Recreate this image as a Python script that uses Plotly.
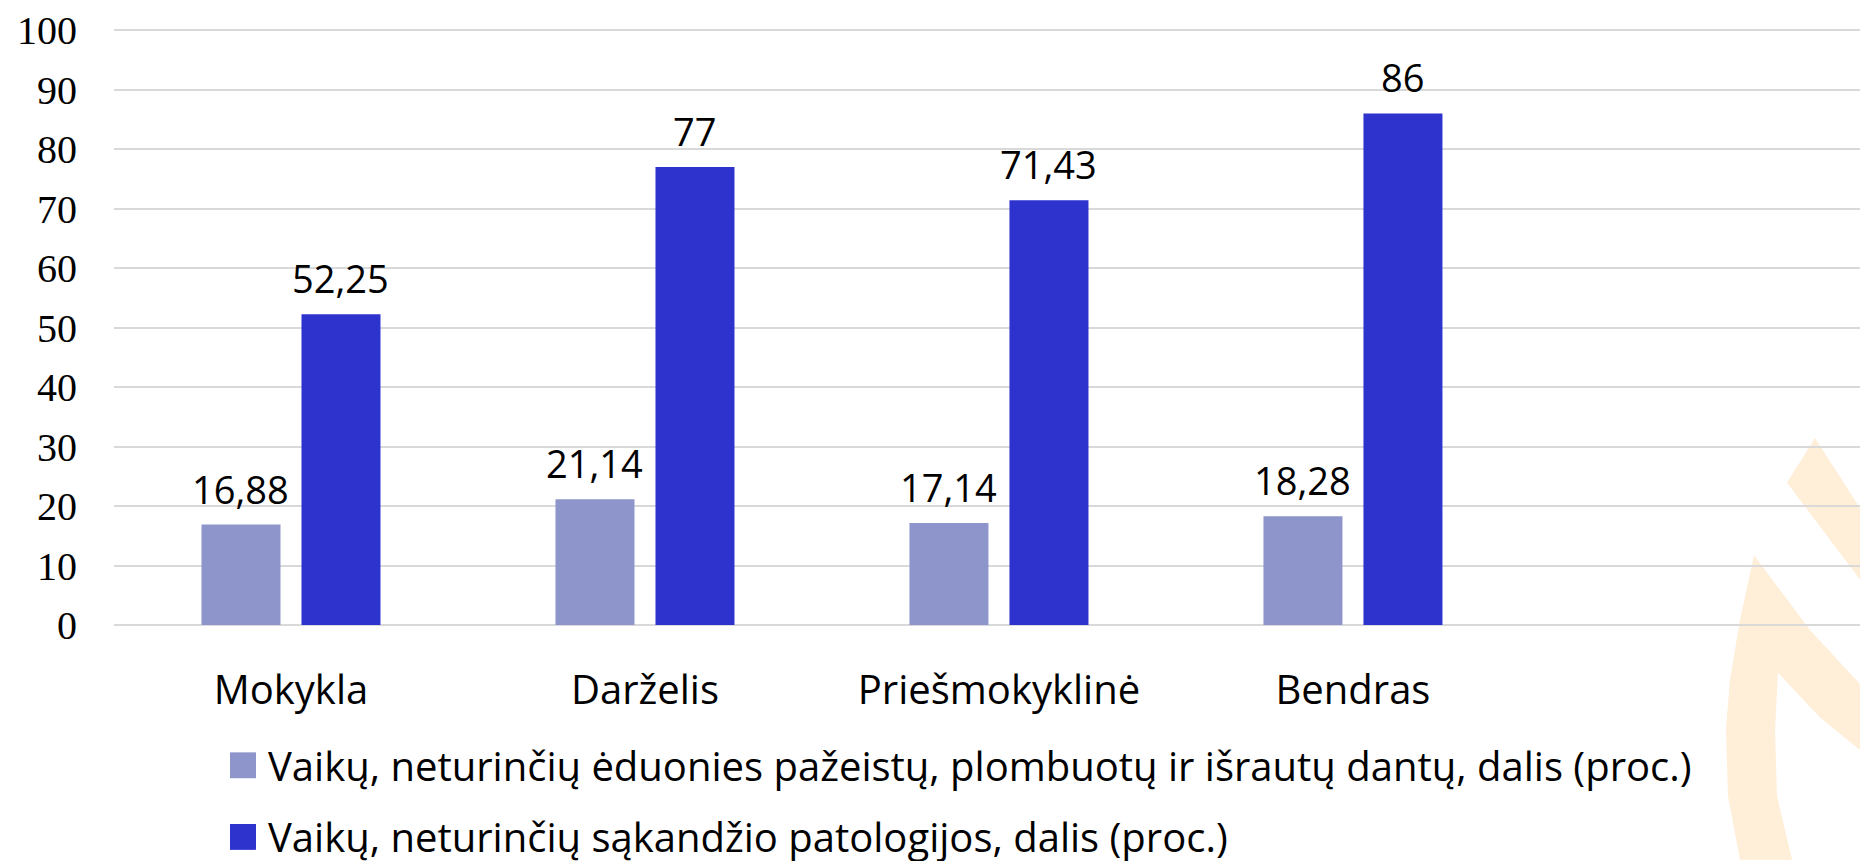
import plotly.graph_objects as go

# data
categories = ["Mokykla", "Darželis", "Priešmokyklinė", "Bendras"]
caries_free = [16.88, 21.14, 17.14, 18.28]
bite_ok = [52.25, 77, 71.43, 86]
series_names = [
    "Vaikų, neturinčių ėduonies pažeistų, plombuotų ir išrautų dantų, dalis (proc.)",
    "Vaikų, neturinčių sąkandžio patologijos, dalis (proc.)",
]
y_ticks = [0, 10, 20, 30, 40, 50, 60, 70, 80, 90, 100]

colors = ["#8E95CB", "#2E33CE"]
sans = "Open Sans"

# the page puts the figure 8px in from the top-left corner (body margin)
OFF = 8
W, H = 1868 - OFF, 861 - OFF
L, R, T, B = 106, 0, 18, 236


# page pixels -> paper coords (for decoration / legend only)
def px(x):
    return (x - OFF - L) / (W - L - R)


def py(y):
    return (H - B - (y - OFF)) / (H - T - B)


def path(points):
    s = "M " + " L ".join(f"{px(x):.4f},{py(y):.4f}" for x, y in points)
    return s + " Z"


fig = go.Figure()
for name, vals, col in zip(series_names, [caries_free, bite_ok], colors):
    fig.add_trace(go.Bar(x=categories, y=vals, name=name,
                         marker=dict(color=col, line=dict(width=0)),
                         showlegend=False))

# value labels
annotations = []
for vals, shift in [(caries_free, -50), (bite_ok, 50)]:
    for c, v in zip(categories, vals):
        annotations.append(dict(
            x=c, y=v, xref="x", yref="y", text=f"{v:g}".replace(".", ","),
            showarrow=False, xshift=shift, yanchor="bottom", yshift=8,
            font=dict(family=sans, size=38, color="black")))

# legend drawn by hand so the colour squares match the original size
shapes = []
for i, (name, col) in enumerate(zip(series_names, colors)):
    yc = 766 + i * 72
    shapes.append(dict(type="rect", xref="paper", yref="paper",
                       x0=px(230), x1=px(256), y0=py(yc + 13), y1=py(yc - 13),
                       fillcolor=col, line=dict(width=0)))
    annotations.append(dict(x=px(266), y=py(yc), xref="paper", yref="paper",
                            text=name, showarrow=False, xanchor="left",
                            yanchor="middle",
                            font=dict(family=sans, size=40, color="black")))

# faint orange watermark on the right
wm = "rgb(255,238,216)"
shapes.append(dict(type="path", xref="paper", yref="paper", layer="below",
                   path=path([(1815, 437), (1868, 520), (1868, 590), (1787, 482)]),
                   fillcolor=wm, line=dict(width=0)))
shapes.append(dict(type="path", xref="paper", yref="paper", layer="below",
                   path=path([(1754, 555), (1810, 630), (1868, 693), (1868, 757),
                              (1820, 718), (1778, 673), (1775, 730), (1777, 797),
                              (1792, 861), (1740, 861), (1728, 797), (1726, 730),
                              (1730, 680), (1740, 620)]),
                   fillcolor=wm, line=dict(width=0)))
shapes.append(dict(type="path", xref="paper", yref="paper", layer="below",
                   path=path([(1868, 358), (1860, 368), (1868, 396)]),
                   fillcolor=wm, line=dict(width=0)))

fig.update_layout(
    width=W, height=H,
    margin=dict(l=L, r=R, t=T, b=B, pad=0),
    paper_bgcolor="white", plot_bgcolor="rgba(0,0,0,0)",
    barmode="group", bargap=0.435, bargroupgap=0.21,
    annotations=annotations, shapes=shapes,
    showlegend=False,
)
fig.update_xaxes(range=[-0.5, 4.455], showgrid=False, showline=False,
                 zeroline=False, ticks="", ticklabelstandoff=38,
                 tickfont=dict(family=sans, size=40, color="black"))
# top of range nudged past 100 so the 100 gridline is still drawn
fig.update_yaxes(range=[0, 100.2], tickvals=y_ticks, showgrid=True,
                 gridcolor="#D9D9D9", gridwidth=1.5, zeroline=True,
                 zerolinecolor="#D9D9D9", zerolinewidth=1.5, showline=False,
                 ticks="", ticklabelstandoff=36, ticklabeloverflow="allow",
                 tickfont=dict(family="Liberation Serif", size=40, color="black"))

fig.write_html("out.html")
